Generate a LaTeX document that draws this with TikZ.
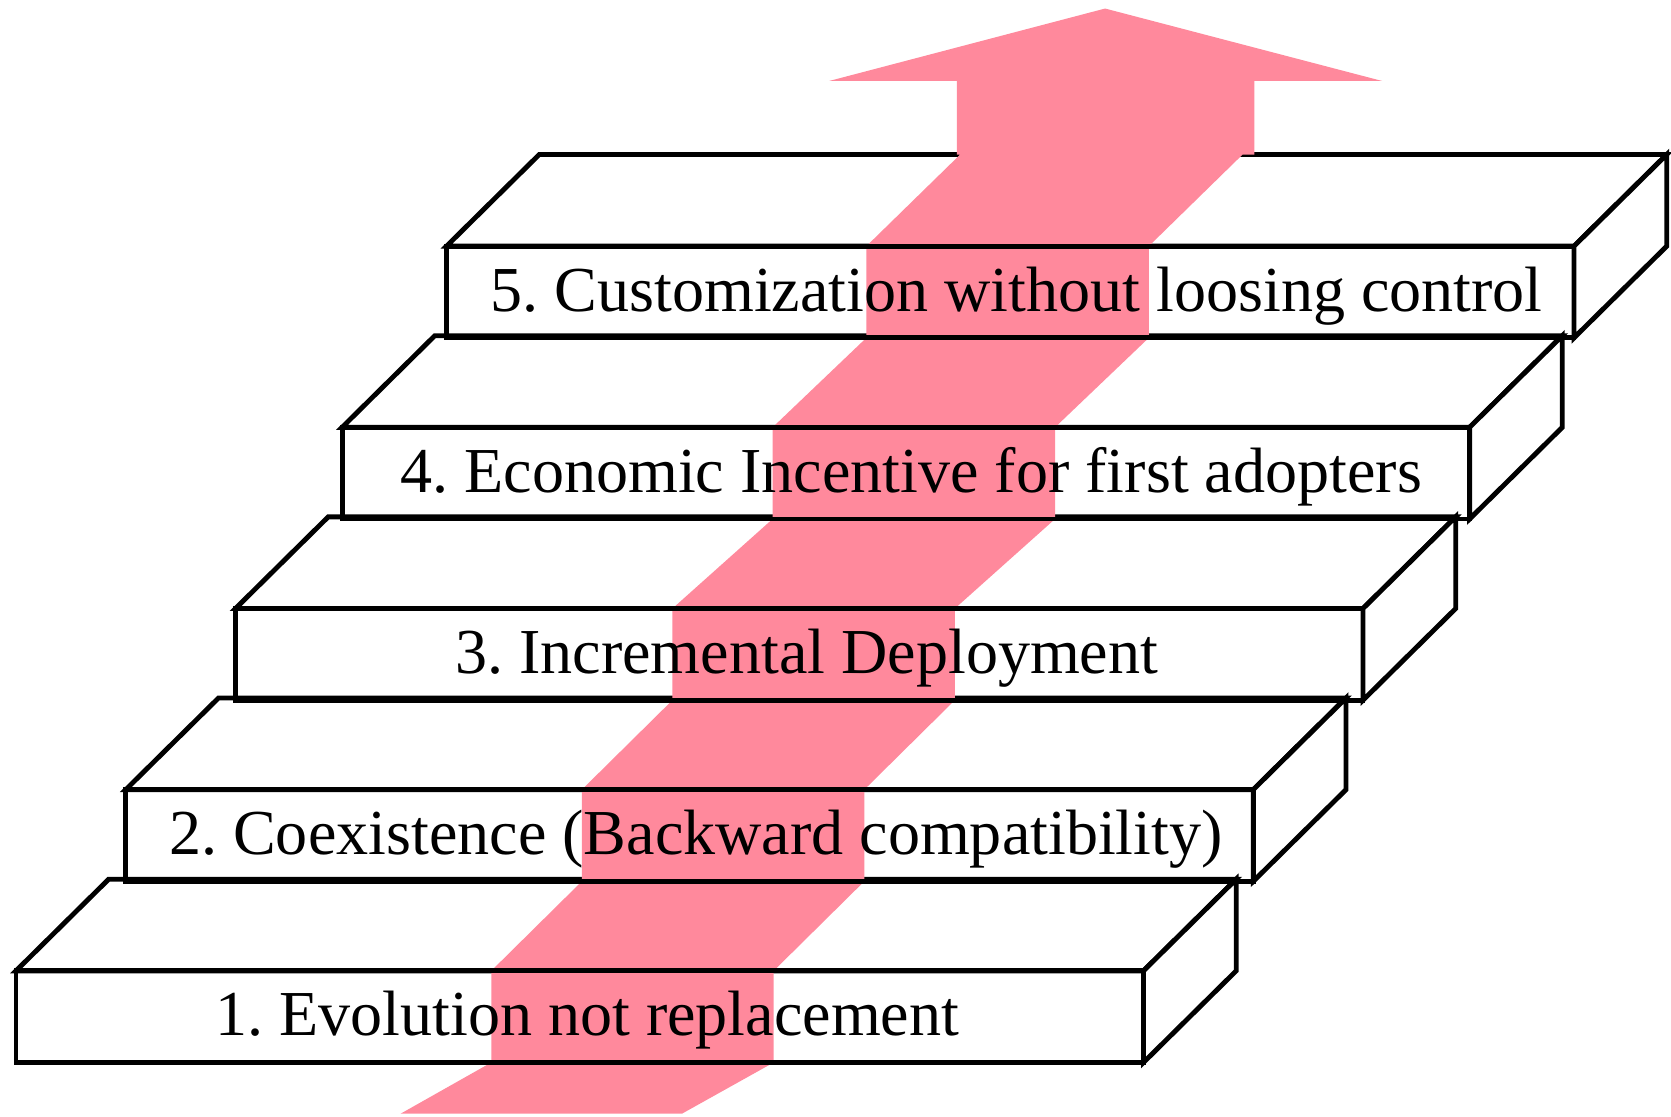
\documentclass[tikz,border=0pt]{standalone}
\usepackage{fontspec}
\setmainfont{Liberation Serif}
\frenchspacing
\definecolor{arrowpink}{RGB}{255,137,156}

\begin{document}
\begin{tikzpicture}[x=0.01cm, y=-0.01cm,
  stepface/.style={draw=black, line width=1.3pt, fill=white},
  stepedge/.style={draw=black, line width=1.3pt},
  steplabel/.style={anchor=base, font=\fontsize{17.1}{20}\selectfont}]
\useasboundingbox (0,0) rectangle (1568,1048);

% top and side faces of the steps, lowest first
\draw[stepface] (15,911) -- (102,825) -- (1160,825) -- (1073,911) -- cycle;
\draw[stepface] (1073,911) -- (1160,825) -- (1160,911) -- (1073,997) -- cycle;
\draw[stepface] (118,741) -- (205,655) -- (1263,655) -- (1176,741) -- cycle;
\draw[stepface] (1176,741) -- (1263,655) -- (1263,741) -- (1176,827) -- cycle;
\draw[stepface] (221,571) -- (308,485) -- (1366,485) -- (1279,571) -- cycle;
\draw[stepface] (1279,571) -- (1366,485) -- (1366,571) -- (1279,657) -- cycle;
\draw[stepface] (321,401) -- (408,315) -- (1466,315) -- (1379,401) -- cycle;
\draw[stepface] (1379,401) -- (1466,315) -- (1466,401) -- (1379,487) -- cycle;
\draw[stepface] (419,231) -- (506,145) -- (1564,145) -- (1477,231) -- cycle;
\draw[stepface] (1477,231) -- (1564,145) -- (1564,231) -- (1477,317) -- cycle;

% the pink arrow climbing the steps
\fill[arrowpink] (376,1045) -- (461,997) -- (461,911) -- (546,827) -- (546,741)
  -- (631,657) -- (631,571) -- (725,487) -- (725,401) -- (813,317) -- (813,231)
  -- (901,145) -- (898,145) -- (898,76) -- (778,76) -- (1037,8) -- (1297,76)
  -- (1177,76) -- (1177,145) -- (1166,145) -- (1078,231) -- (1078,317)
  -- (990,401) -- (990,487) -- (896,571) -- (896,657) -- (811,741) -- (811,827)
  -- (726,911) -- (726,997) -- (640,1045) -- cycle;

% front faces
\draw[stepedge] (15,911) rectangle (1073,997);
\draw[stepedge] (118,741) rectangle (1176,827);
\draw[stepedge] (221,571) rectangle (1279,657);
\draw[stepedge] (321,401) rectangle (1379,487);
\draw[stepedge] (419,231) rectangle (1477,317);

\node[steplabel] (evolution) at (551,972) {1. Evolution not replacement};
\node[steplabel] (coexistence) at (653,802) {2. Coexistence (Backward compatibility)};
\node[steplabel] (incremental) at (757,632) {3. Incremental Deployment};
\node[steplabel] (incentive) at (855,462) {4. Economic Incentive for first adopters};
\node[steplabel] (custom) at (954,292) {5. Customization without loosing control};
\end{tikzpicture}
\end{document}
